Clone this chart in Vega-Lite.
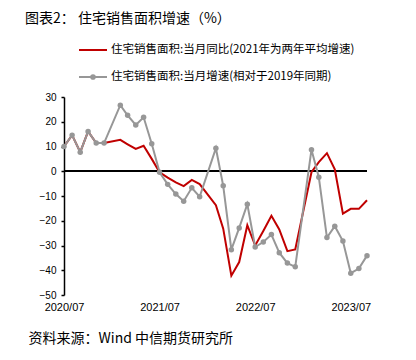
{
  "$schema": "https://vega.github.io/schema/vega-lite/v6.json",
  "width": 303,
  "height": 198,
  "autosize": "none",
  "padding": {"left": 64, "top": 97, "right": 49, "bottom": 65},
  "background": "white",
  "title": {
    "text": "图表2： 住宅销售面积增速（%）",
    "anchor": "start",
    "font": "Noto Sans CJK SC",
    "fontSize": 14,
    "fontWeight": "normal",
    "color": "#000000",
    "dx": -3,
    "offset": 9
  },
  "config": {
    "view": {"stroke": null},
    "legend": {"labelLimit": 0},
    "axisY": {"labelOverlap": false},
    "axis": {"labelOverlap": false}
  },
  "data": {
    "values": [
      {"date": "2020-07-01", "a": 10.0, "b": 10.0},
      {"date": "2020-08-01", "a": 14.6, "b": 14.6},
      {"date": "2020-09-01", "a": 7.7, "b": 7.7},
      {"date": "2020-10-01", "a": 16.1, "b": 16.1},
      {"date": "2020-11-01", "a": 11.4, "b": 11.4},
      {"date": "2020-12-01", "a": 11.4, "b": 11.4},
      {"date": "2021-02-01", "a": 12.7, "b": 26.7},
      {"date": "2021-03-01", "a": 10.9, "b": 22.6},
      {"date": "2021-04-01", "a": 9.0, "b": 18.7},
      {"date": "2021-05-01", "a": 10.3, "b": 21.8},
      {"date": "2021-06-01", "a": 5.0, "b": 11.1},
      {"date": "2021-07-01", "a": -0.4, "b": -0.4},
      {"date": "2021-08-01", "a": -2.6, "b": -5.3},
      {"date": "2021-09-01", "a": -4.5, "b": -9.2},
      {"date": "2021-10-01", "a": -6.0, "b": -12.1},
      {"date": "2021-11-01", "a": -3.5, "b": -6.7},
      {"date": "2021-12-01", "a": -5.2, "b": -10.3},
      {"date": "2022-02-01", "a": -13.7, "b": 9.3},
      {"date": "2022-03-01", "a": -23.2, "b": -5.9},
      {"date": "2022-04-01", "a": -42.2, "b": -31.7},
      {"date": "2022-05-01", "a": -36.7, "b": -22.9},
      {"date": "2022-06-01", "a": -21.8, "b": -13.3},
      {"date": "2022-07-01", "a": -30.0, "b": -30.6},
      {"date": "2022-08-01", "a": -24.1, "b": -28.6},
      {"date": "2022-09-01", "a": -18.0, "b": -25.6},
      {"date": "2022-10-01", "a": -23.5, "b": -32.9},
      {"date": "2022-11-01", "a": -32.3, "b": -37.1},
      {"date": "2022-12-01", "a": -31.6, "b": -38.6},
      {"date": "2023-02-01", "a": -0.4, "b": 8.7},
      {"date": "2023-03-01", "a": 3.7, "b": -2.4},
      {"date": "2023-04-01", "a": 7.3, "b": -26.8},
      {"date": "2023-05-01", "a": 0.8, "b": -22.2},
      {"date": "2023-06-01", "a": -17.1, "b": -28.2},
      {"date": "2023-07-01", "a": -15.2, "b": -41.2},
      {"date": "2023-08-01", "a": -15.2, "b": -39.3},
      {"date": "2023-09-01", "a": -11.7, "b": -34.1}
    ]
  },
  "transform": [
    {"fold": ["a", "b"], "as": ["key", "value"]}
  ],
  "layer": [
    {
      "mark": {"type": "rule", "color": "#000000", "strokeWidth": 1.5},
      "encoding": {
        "y": {
          "datum": 0,
          "type": "quantitative",
          "scale": {"domain": [-50, 30], "nice": false, "zero": false},
          "axis": {
            "values": [-50, -40, -30, -20, -10, 0, 10, 20, 30],
            "title": null,
            "grid": false,
            "domainColor": "#000000",
            "domainWidth": 1.5,
            "tickColor": "#000000",
            "tickSize": 3,
            "tickWidth": 1.5,
            "labelFont": "Liberation Sans",
            "labelFontSize": 10,
            "labelColor": "#000000",
            "labelPadding": 5,
            "labelOverlap": false
          }
        }
      }
    },
    {
      "mark": {"type": "line", "strokeWidth": 2},
      "encoding": {
        "x": {
          "field": "date",
          "type": "temporal",
          "scale": {"type": "utc", "domain": ["2020-07-01", "2023-09-01"]},
          "axis": {
            "values": ["2020-07-01", "2021-07-01", "2022-07-01", "2023-07-01"],
            "labelExpr": "utcFormat(datum.value, '%Y/%m')",
            "domain": false,
            "ticks": false,
            "grid": false,
            "labelFont": "Liberation Sans",
            "labelFontSize": 11,
            "labelColor": "#000000",
            "labelPadding": 6,
            "labelOverlap": false,
            "labelFlush": false,
            "title": "资料来源：Wind 中信期货研究所",
            "titleFont": "Noto Sans CJK SC",
            "titleFontSize": 14,
            "titleFontWeight": "normal",
            "titleColor": "#000000",
            "titleAnchor": "start",
            "titleAlign": "left",
            "titleBaseline": "middle",
            "titleX": -36,
            "titleY": 43
          }
        },
        "y": {
          "field": "value",
          "type": "quantitative",
          "scale": {"domain": [-50, 30], "nice": false, "zero": false},
          "axis": {
            "values": [-50, -40, -30, -20, -10, 0, 10, 20, 30],
            "title": null,
            "grid": false,
            "domainColor": "#000000",
            "domainWidth": 1.5,
            "tickColor": "#000000",
            "tickSize": 3,
            "tickWidth": 1.5,
            "labelFont": "Liberation Sans",
            "labelFontSize": 10,
            "labelColor": "#000000",
            "labelPadding": 5,
            "labelOverlap": false
          }
        },
        "color": {
          "field": "key",
          "type": "nominal",
          "scale": {"domain": ["a", "b"], "range": ["#C00000", "#979797"]},
          "legend": {
            "title": null,
            "orient": "none",
            "legendX": 14,
            "legendY": -62,
            "direction": "vertical",
            "symbolType": "stroke",
            "symbolSize": 784,
            "symbolStrokeWidth": 2,
            "labelFont": "Noto Sans CJK SC",
            "labelFontSize": 11.5,
            "labelColor": "#000000",
            "labelOffset": 3,
            "rowPadding": 6,
            "labelExpr": "datum.value === 'a' ? '住宅销售面积:当月同比(2021年为两年平均增速)' : '住宅销售面积:当月增速(相对于2019年同期)'",
            "encode": {
              "symbols": {
                "update": {
                  "shape": {"signal": "datum.value === 'b' ? 'M-1,0H1M-0.13,0A0.13,0.13 0 1,0 0.13,0A0.13,0.13 0 1,0 -0.13,0Z' : 'stroke'"},
                  "fill": {"signal": "datum.value === 'b' ? '#979797' : 'transparent'"}
                }
              }
            }
          }
        }
      }
    },
    {
      "transform": [{"filter": {"field": "key", "equal": "b"}}],
      "mark": {"type": "point", "filled": true, "size": 30, "opacity": 1, "color": "#979797"},
      "encoding": {
        "x": {"field": "date", "type": "temporal"},
        "y": {
          "field": "value",
          "type": "quantitative",
          "axis": {
            "values": [-50, -40, -30, -20, -10, 0, 10, 20, 30],
            "title": null,
            "grid": false,
            "domainColor": "#000000",
            "domainWidth": 1.5,
            "tickColor": "#000000",
            "tickSize": 3,
            "tickWidth": 1.5,
            "labelFont": "Liberation Sans",
            "labelFontSize": 10,
            "labelColor": "#000000",
            "labelPadding": 5,
            "labelOverlap": false
          }
        }
      }
    }
  ]
}
